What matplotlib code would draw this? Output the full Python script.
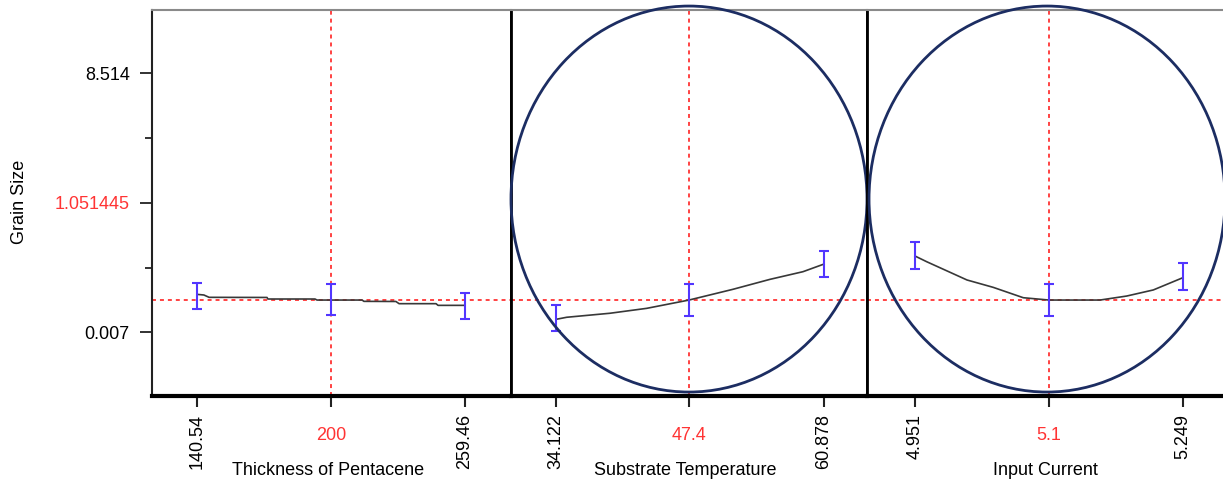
import matplotlib
matplotlib.use("Agg")
import matplotlib.pyplot as plt
from matplotlib.patches import Ellipse
import numpy as np

plt.rcParams['font.family'] = ['Liberation Sans', 'DejaVu Sans']

# ---- data (y values in the profiler's own axis units) ----
y_tick_pos = [0.0, 1.0, 2.0]
y_tick_labels = ["0.007", "1.051445", "8.514"]
y_minor_pos = [0.5, 1.5]
current_y = 0.249

factor_names = ["Thickness of Pentacene", "Substrate Temperature", "Input Current"]
factor_low = [140.54, 34.122, 4.951]
factor_mid = [200, 47.4, 5.1]
factor_high = [259.46, 60.878, 5.249]
low_labels = ["140.54", "34.122", "4.951"]
mid_labels = ["200", "47.4", "5.1"]
high_labels = ["259.46", "60.878", "5.249"]

thick_x = [140.54, 143.6, 145.9, 171.6, 172.0, 192.9, 193.8, 213.8, 214.6, 228.8, 230.2, 246.6, 247.5, 259.46]
thick_y = [0.293, 0.288, 0.270, 0.269, 0.257, 0.257, 0.249, 0.249, 0.239, 0.238, 0.221, 0.221, 0.208, 0.208]
temp_x = [34.122, 35.19, 39.51, 43.18, 47.4, 51.79, 55.49, 58.78, 60.878]
temp_y = [0.100, 0.116, 0.147, 0.185, 0.249, 0.332, 0.409, 0.468, 0.527]
curr_x = [4.951, 4.964, 5.0088, 5.038, 5.0714, 5.1, 5.1567, 5.1864, 5.216, 5.249]
curr_y = [0.589, 0.545, 0.404, 0.347, 0.267, 0.249, 0.249, 0.280, 0.327, 0.422]

thick_err_x = [140.54, 200, 259.46]
thick_err_mid = [0.293, 0.249, 0.208]
thick_err_lo = [0.180, 0.134, 0.100]
thick_err_hi = [0.378, 0.371, 0.301]
temp_err_x = [34.122, 47.4, 60.878]
temp_err_mid = [0.100, 0.249, 0.527]
temp_err_lo = [0.012, 0.128, 0.429]
temp_err_hi = [0.211, 0.371, 0.628]
curr_err_x = [4.951, 5.1, 5.249]
curr_err_mid = [0.589, 0.249, 0.422]
curr_err_lo = [0.489, 0.128, 0.327]
curr_err_hi = [0.695, 0.371, 0.533]

xlims = [(120.57, 279.87), (29.63, 65.17), (4.8976, 5.3024)]
circles = [None, (47.4, 1.029, 35.54, 2.981), (5.0978, 1.029, 0.3959, 2.981)]

curves = [(thick_x, thick_y), (temp_x, temp_y), (curr_x, curr_y)]
errs = [(thick_err_x, thick_err_mid, thick_err_lo, thick_err_hi),
        (temp_err_x, temp_err_mid, temp_err_lo, temp_err_hi),
        (curr_err_x, curr_err_mid, curr_err_lo, curr_err_hi)]

W, H = 1223, 482
fig = plt.figure(figsize=(W / 100, H / 100), dpi=100)

panel_px = [(152, 511), (511, 867), (867, 1231)]
top_px, bot_px = 10, 396
ylim = (-0.492, 2.489)

RED = '#ff3434'
BLUE = '#5236ff'
NAVY = '#1c2d62'
FS = 13

for i in range(3):
    x0, x1 = panel_px[i]
    ax = fig.add_axes([x0 / W, 1 - bot_px / H, (x1 - x0) / W, (bot_px - top_px) / H])
    ax.set_xlim(*xlims[i])
    ax.set_ylim(*ylim)

    # reference lines
    ax.axhline(current_y, color=RED, lw=1.3, ls=(0, (2.2, 2.2)), zorder=1)
    ax.axvline(factor_mid[i], color=RED, lw=1.3, ls=(0, (2.2, 2.2)), zorder=1)

    cx, cy = curves[i]
    ax.plot(cx, cy, color='#383838', lw=1.2, zorder=3)

    ex, em, elo, ehi = errs[i]
    em = np.array(em); elo = np.array(elo); ehi = np.array(ehi)
    ax.errorbar(ex, em, yerr=[em - elo, ehi - em], fmt='none', ecolor=BLUE,
                elinewidth=1.5, capsize=3.5, capthick=1.5, zorder=4)

    if circles[i] is not None:
        ccx, ccy, cw, ch = circles[i]
        e = Ellipse((ccx, ccy), cw, ch, fill=False, edgecolor=NAVY, lw=2.0,
                    clip_on=False, zorder=5)
        ax.add_patch(e)

    # spines
    ax.spines['top'].set_color('#8a8a8a')
    ax.spines['top'].set_linewidth(1.5)
    ax.spines['bottom'].set_color('black')
    ax.spines['bottom'].set_linewidth(3)
    ax.spines['left'].set_color('#222222' if i == 0 else 'black')
    ax.spines['left'].set_linewidth(1.5 if i == 0 else 2)
    if i == 2:
        ax.spines['right'].set_visible(False)
    else:
        ax.spines['right'].set_visible(True)
        ax.spines['right'].set_color('black')
        ax.spines['right'].set_linewidth(2)

    # x ticks
    ax.set_xticks([factor_low[i], factor_high[i]])
    ax.set_xticklabels([low_labels[i], high_labels[i]], rotation=90, fontsize=FS)
    ax.set_xticks([factor_mid[i]], minor=True)
    ax.set_xticklabels([mid_labels[i]], minor=True, fontsize=FS, color=RED)
    ax.tick_params(axis='x', which='major', length=8, width=1.5, pad=5, color='#222222')
    ax.tick_params(axis='x', which='minor', length=8, width=1.5, pad=14, color='#222222')
    ax.set_xlabel(factor_names[i], fontsize=FS, va='center')
    ax.xaxis.set_label_coords(0.49, -0.192)

    if i == 0:
        ax.set_yticks(y_tick_pos)
        ax.set_yticklabels(y_tick_labels, fontsize=FS)
        ax.get_yticklabels()[1].set_color(RED)
        ax.set_yticks(y_minor_pos, minor=True)
        ax.tick_params(axis='y', which='major', length=9, width=1.3, pad=7, color='#222222')
        ax.tick_params(axis='y', which='minor', length=5, width=1.3, color='#222222')
        ax.set_ylabel("Grain Size", fontsize=FS, va='center')
        ax.yaxis.set_label_coords(-0.368, 0.503)
    else:
        ax.set_yticks([])

fig.savefig("out.png", dpi=100)
